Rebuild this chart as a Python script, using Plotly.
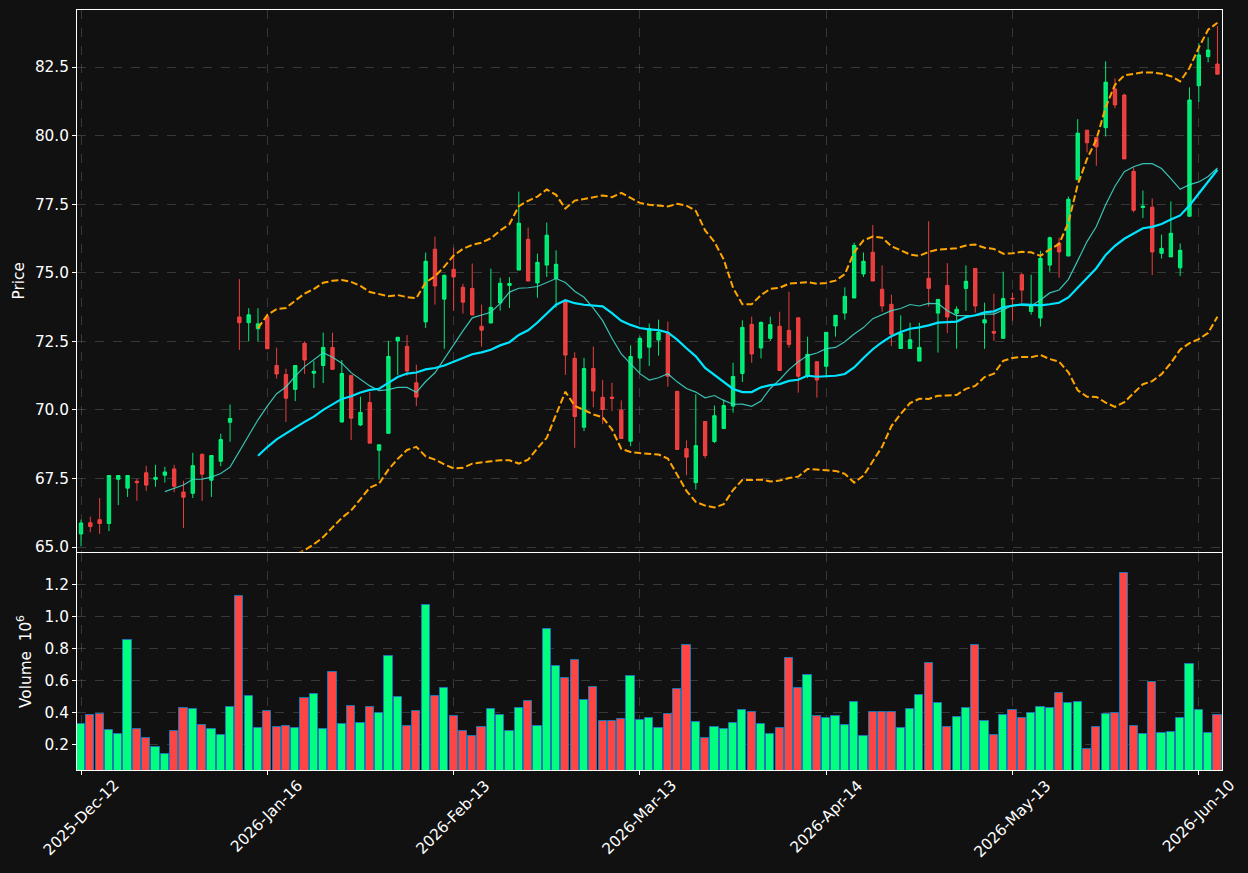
import pandas as pd
import plotly.graph_objects as go

# ---------------- data ----------------
tick_pos = [0, 20, 40, 60, 80, 100, 120]
tick_labels = ["2025-Dec-12", "2026-Jan-16", "2026-Feb-13", "2026-Mar-13",
               "2026-Apr-14", "2026-May-13", "2026-Jun-10"]

opens = [65.48, 65.89, 66.00, 65.86, 67.47, 67.15, 67.40, 67.71, 67.47, 67.62,
         67.85, 67.01, 66.96, 68.38, 67.44, 68.13, 69.55, 73.39, 73.18, 72.96,
         73.40, 71.62, 71.29, 70.75, 72.43, 71.34, 71.62, 72.28, 69.56, 71.26,
         69.45, 70.27, 68.53, 69.15, 72.51, 72.32, 70.99, 73.21, 75.86, 74.04,
         75.13, 74.47, 74.43, 73.05, 73.17, 73.90, 74.54, 75.10, 76.22, 74.63,
         75.28, 74.79, 73.97, 71.88, 69.37, 71.51, 70.46, 70.47, 69.99, 68.86,
         71.89, 72.29, 72.55, 72.82, 70.68, 68.59, 67.35, 69.58, 68.85, 69.32,
         70.14, 71.33, 73.12, 72.26, 72.61, 73.05, 72.90, 73.36, 71.23, 71.76,
         71.59, 73.06, 73.53, 74.08, 74.96, 75.75, 74.40, 73.85, 72.24, 72.24,
         71.78, 74.80, 73.53, 74.54, 73.52, 74.43, 75.16, 73.17, 72.86, 72.61,
         74.07, 74.93, 73.59, 73.35, 75.28, 76.08, 75.61, 78.39, 80.20, 79.93,
         80.29, 81.70, 81.48, 78.70, 77.38, 77.39, 75.71, 75.58, 75.18, 77.06,
         81.82, 82.88, 82.61]
highs = [66.00, 66.11, 66.79, 67.62, 67.62, 67.62, 67.49, 67.96, 68.00, 67.93,
         68.00, 67.42, 68.44, 68.42, 68.34, 69.13, 70.20, 74.77, 73.71, 73.71,
         73.51, 72.27, 71.50, 71.62, 72.50, 71.78, 72.82, 72.82, 71.82, 71.26,
         70.48, 70.66, 68.73, 72.52, 72.65, 72.73, 71.65, 75.74, 76.32, 74.93,
         75.92, 74.60, 75.34, 73.84, 75.15, 74.82, 74.84, 77.96, 76.65, 75.70,
         76.83, 75.82, 73.97, 72.10, 71.90, 72.31, 71.10, 70.99, 70.35, 72.35,
         72.69, 73.15, 73.29, 73.22, 70.68, 68.89, 70.57, 69.58, 70.16, 70.38,
         71.72, 73.27, 73.40, 73.23, 73.40, 73.58, 74.31, 73.36, 72.67, 71.76,
         72.83, 73.45, 74.47, 76.10, 75.74, 76.74, 75.27, 74.20, 73.45, 73.18,
         73.18, 76.88, 74.03, 75.35, 73.78, 75.27, 75.16, 73.91, 74.24, 75.04,
         74.27, 74.99, 74.93, 75.80, 76.32, 76.28, 77.78, 80.60, 80.20, 79.93,
         82.71, 82.09, 81.53, 78.84, 78.00, 77.71, 76.39, 77.60, 76.07, 81.76,
         83.37, 83.58, 84.00]
lows = [65.03, 65.54, 65.48, 65.58, 66.53, 66.83, 66.69, 67.05, 67.20, 67.35,
        67.00, 65.70, 66.79, 66.69, 66.83, 67.95, 68.84, 72.19, 72.50, 72.50,
        72.22, 71.14, 69.56, 70.32, 71.31, 70.80, 70.98, 71.48, 69.54, 68.90,
        69.42, 68.79, 67.46, 69.13, 71.27, 71.24, 70.14, 72.99, 73.84, 72.23,
        73.61, 73.51, 73.46, 72.31, 73.17, 73.62, 73.72, 75.10, 74.70, 74.09,
        74.85, 73.73, 71.28, 68.62, 69.23, 70.10, 69.48, 69.96, 68.96, 68.68,
        71.36, 71.60, 71.98, 70.85, 68.56, 67.62, 67.10, 68.24, 68.79, 69.32,
        69.90, 71.02, 71.72, 71.88, 72.51, 71.44, 72.27, 70.63, 71.16, 70.45,
        71.23, 72.67, 73.29, 74.08, 74.85, 74.70, 73.58, 72.33, 72.24, 72.24,
        71.78, 73.77, 72.09, 72.80, 72.23, 73.61, 73.55, 72.23, 72.52, 72.61,
        73.25, 73.91, 73.47, 73.04, 75.04, 74.82, 75.61, 78.39, 79.39, 78.90,
        79.97, 81.00, 79.15, 77.20, 77.00, 74.92, 75.52, 75.58, 74.88, 77.06,
        81.23, 82.67, 82.24]
closes = [65.88, 65.75, 65.86, 67.61, 67.61, 67.61, 67.35, 67.26, 67.54, 67.74,
          67.22, 66.82, 67.97, 67.66, 68.34, 68.92, 69.69, 73.18, 73.47, 73.14,
          72.23, 71.31, 70.43, 71.62, 71.82, 71.41, 72.28, 71.48, 71.33, 69.70,
          69.91, 68.79, 68.73, 71.95, 72.65, 71.42, 70.47, 75.42, 74.52, 74.91,
          74.85, 73.93, 73.46, 72.91, 73.74, 74.62, 74.61, 76.81, 74.70, 75.38,
          76.37, 75.31, 72.00, 69.76, 71.51, 70.69, 70.02, 70.42, 68.96, 71.95,
          72.61, 72.97, 72.83, 71.23, 68.56, 68.28, 68.70, 68.34, 69.79, 70.16,
          71.22, 73.01, 72.04, 73.19, 73.11, 71.44, 72.39, 71.23, 72.03, 71.09,
          72.83, 73.45, 74.14, 76.00, 75.42, 74.70, 73.79, 72.76, 72.79, 72.56,
          72.28, 74.43, 74.03, 73.39, 73.67, 74.69, 73.79, 73.29, 72.80, 74.06,
          74.05, 74.37, 73.81, 75.53, 76.28, 75.76, 77.68, 80.09, 79.74, 79.59,
          81.95, 81.12, 79.15, 77.28, 77.43, 75.76, 75.89, 76.44, 75.82, 81.30,
          82.94, 83.12, 82.24]
volumes = [0.325, 0.381, 0.388, 0.288, 0.263, 0.850, 0.294, 0.238, 0.181, 0.138,
           0.281, 0.425, 0.419, 0.319, 0.294, 0.256, 0.431, 1.125, 0.500, 0.300,
           0.406, 0.306, 0.313, 0.300, 0.488, 0.513, 0.294, 0.650, 0.325, 0.438,
           0.331, 0.431, 0.394, 0.750, 0.494, 0.313, 0.406, 1.069, 0.500, 0.550,
           0.375, 0.281, 0.250, 0.306, 0.419, 0.381, 0.281, 0.425, 0.469, 0.313,
           0.919, 0.688, 0.613, 0.725, 0.475, 0.556, 0.344, 0.344, 0.356, 0.625,
           0.350, 0.363, 0.300, 0.388, 0.544, 0.819, 0.338, 0.238, 0.306, 0.294,
           0.331, 0.413, 0.400, 0.325, 0.263, 0.300, 0.738, 0.550, 0.631, 0.375,
           0.363, 0.375, 0.319, 0.463, 0.250, 0.400, 0.400, 0.400, 0.300, 0.419,
           0.506, 0.706, 0.456, 0.306, 0.369, 0.425, 0.819, 0.344, 0.256, 0.381,
           0.413, 0.363, 0.394, 0.431, 0.425, 0.519, 0.456, 0.463, 0.169, 0.306,
           0.388, 0.394, 1.269, 0.313, 0.263, 0.588, 0.269, 0.275, 0.363, 0.700,
           0.413, 0.269, 0.381]

# ---------------- derived indicators ----------------
x = list(range(len(closes)))
cs = pd.Series(closes)
sma10 = cs.rolling(10).mean()
sma20 = cs.rolling(20).mean()
sd20 = cs.rolling(20).std()
upper = sma20 + 2 * sd20
lower = sma20 - 2 * sd20

# ---------------- styling ----------------
BG = "#111111"
UP = "rgba(0,255,127,0.9)"
DOWN = "rgba(255,68,68,0.9)"
VUP = "#00ff7f"
VDOWN = "#ff4444"
GRID = "rgba(128,128,128,0.35)"
FONT = "DejaVu Sans"
FS = 15.3

vcolors = [VUP if c >= o else VDOWN for o, c in zip(opens, closes)]

fig = go.Figure()

fig.add_trace(go.Candlestick(
    x=x, open=opens, high=highs, low=lows, close=closes,
    increasing=dict(line=dict(color=UP, width=1), fillcolor=UP),
    decreasing=dict(line=dict(color=DOWN, width=1), fillcolor=DOWN),
    whiskerwidth=0, xaxis="x", yaxis="y", showlegend=False, name="Price"))

fig.add_trace(go.Scatter(x=x, y=upper, mode="lines", xaxis="x", yaxis="y",
                         line=dict(color="#ffa500", width=2, dash="7px,3px"),
                         showlegend=False, hoverinfo="skip"))
fig.add_trace(go.Scatter(x=x, y=lower, mode="lines", xaxis="x", yaxis="y",
                         line=dict(color="#ffa500", width=2, dash="7px,3px"),
                         showlegend=False, hoverinfo="skip"))
fig.add_trace(go.Scatter(x=x, y=sma10, mode="lines", xaxis="x", yaxis="y",
                         line=dict(color="rgba(64,224,208,0.85)", width=1.2),
                         showlegend=False))
fig.add_trace(go.Scatter(x=x, y=sma20, mode="lines", xaxis="x", yaxis="y",
                         line=dict(color="#00e5ff", width=2.2),
                         showlegend=False))

fig.add_trace(go.Bar(x=x, y=volumes, width=0.88, xaxis="x2", yaxis="y2",
                     marker=dict(color=vcolors, line=dict(color="#1f77b4", width=1)),
                     showlegend=False))

axis_common = dict(showline=True, linecolor="white", linewidth=1, mirror=True,
                   showgrid=True, gridcolor=GRID, griddash="dash", gridwidth=1,
                   zeroline=False, tickfont=dict(family=FONT, size=FS, color="white"))

fig.update_layout(
    width=1248, height=873,
    margin=dict(l=77, r=26, t=10, b=103),
    paper_bgcolor=BG, plot_bgcolor=BG,
    font=dict(family=FONT, size=FS, color="white"),
    boxgap=0.48,
    bargap=0,
    xaxis=dict(domain=[0, 1], anchor="y", range=[-0.43, 122.49],
               tickvals=tick_pos, showticklabels=False, ticks="",
               rangeslider=dict(visible=False), **axis_common),
    yaxis=dict(domain=[0.2875, 1], anchor="x", range=[64.84, 84.58],
               tick0=65, dtick=2.5, tickformat=".1f", ticks="outside",
               ticklen=4, tickcolor="white",
               title=dict(text="Price", font=dict(family=FONT, size=FS, color="white"),
                          standoff=6),
               **axis_common),
    xaxis2=dict(domain=[0, 1], anchor="y2", matches="x", range=[-0.43, 122.49],
                tickvals=tick_pos, showticklabels=False, ticks="outside",
                ticklen=4, tickcolor="white", **axis_common),
    yaxis2=dict(domain=[0, 0.2855], anchor="x2", range=[0.039, 1.396],
                tickvals=[0.2, 0.4, 0.6, 0.8, 1.0, 1.2], tickformat=".1f",
                ticks="outside", ticklen=4, tickcolor="white",
                title=dict(text="Volume  10<sup>6</sup>",
                           font=dict(family=FONT, size=FS, color="white"),
                           standoff=9),
                **axis_common),
)

for v, lab in zip(tick_pos, tick_labels):
    fig.add_annotation(x=v, xref="x2", y=0, yref="paper", text=lab,
                       textangle=-45, showarrow=False, xanchor="center",
                       yanchor="top", yshift=-4,
                       font=dict(family=FONT, size=FS, color="white"))

fig.write_html("out.html")
